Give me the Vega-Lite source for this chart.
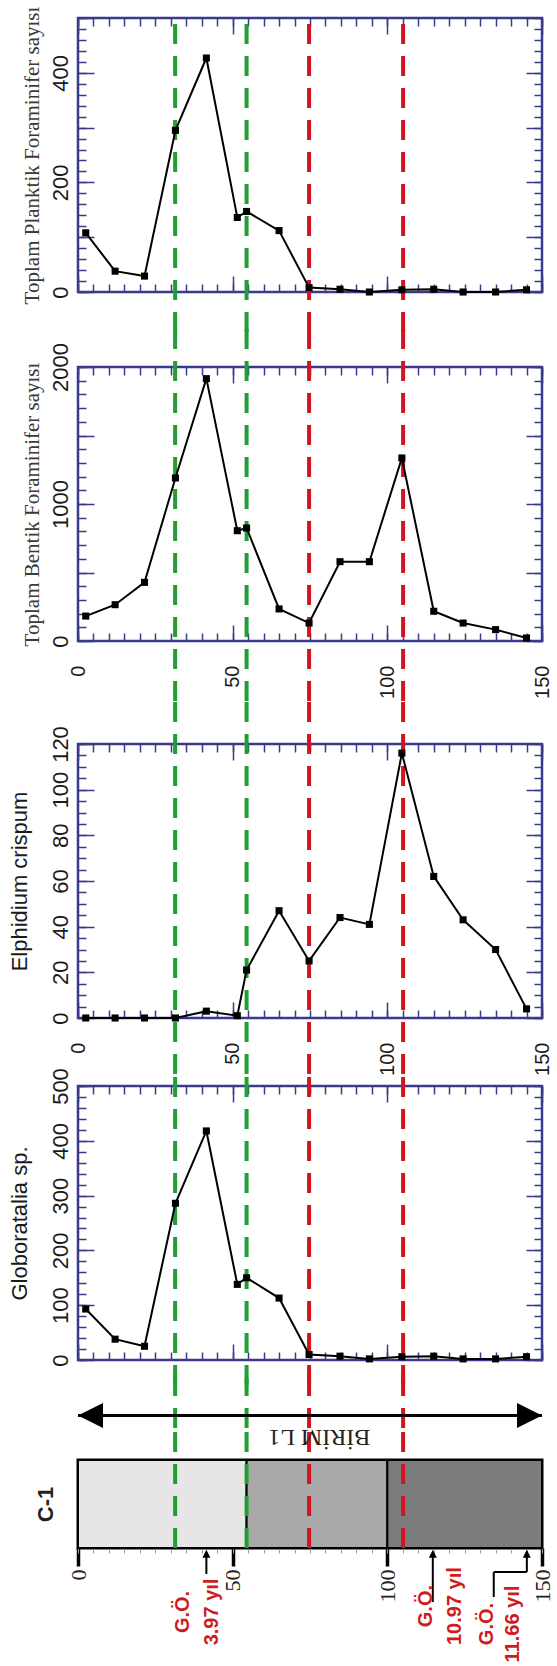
{
  "$schema": "https://vega.github.io/schema/vega-lite/v6.json",
  "background": "white",
  "padding": {"left": 6, "top": 4, "right": 4, "bottom": 4},
  "spacing": -14,
  "datasets": {
    "core": [
      {"depth": 2.5, "planktik": 108, "bentik": 182, "elphidium": 0, "globorotalia": 93},
      {"depth": 12, "planktik": 38, "bentik": 265, "elphidium": 0, "globorotalia": 38},
      {"depth": 21.5, "planktik": 29, "bentik": 428, "elphidium": 0, "globorotalia": 25},
      {"depth": 31.5, "planktik": 295, "bentik": 1190, "elphidium": 0, "globorotalia": 286},
      {"depth": 41.5, "planktik": 427, "bentik": 1915, "elphidium": 3, "globorotalia": 418},
      {"depth": 51.5, "planktik": 136, "bentik": 805, "elphidium": 1, "globorotalia": 138},
      {"depth": 54.5, "planktik": 147, "bentik": 825, "elphidium": 21, "globorotalia": 150},
      {"depth": 65, "planktik": 112, "bentik": 234, "elphidium": 47, "globorotalia": 113},
      {"depth": 74.7, "planktik": 8, "bentik": 131, "elphidium": 25, "globorotalia": 10},
      {"depth": 84.7, "planktik": 5, "bentik": 579, "elphidium": 44, "globorotalia": 7},
      {"depth": 94.2, "planktik": 0, "bentik": 579, "elphidium": 41, "globorotalia": 2},
      {"depth": 104.7, "planktik": 4, "bentik": 1336, "elphidium": 116, "globorotalia": 6},
      {"depth": 115, "planktik": 5, "bentik": 217, "elphidium": 62, "globorotalia": 7},
      {"depth": 124.5, "planktik": 0, "bentik": 131, "elphidium": 43, "globorotalia": 2},
      {"depth": 135, "planktik": 0, "bentik": 83, "elphidium": 30, "globorotalia": 2},
      {"depth": 145, "planktik": 4, "bentik": 22, "elphidium": 4, "globorotalia": 6}
    ],
    "boundaries": [
      {"depth": 31.4, "kind": "green"},
      {"depth": 54.5, "kind": "green"},
      {"depth": 74.7, "kind": "red"},
      {"depth": 105.1, "kind": "red"}
    ],
    "units": [
      {"from": 0, "to": 54.5, "unit": "a"},
      {"from": 54.5, "to": 100, "unit": "b"},
      {"from": 100, "to": 150, "unit": "c"}
    ],
    "events": [
      {"depth": 41.5, "label": "G.Ö. 3.97 yıl"},
      {"depth": 114.7, "label": "G.Ö. 10.97 yıl"},
      {"depth": 145.1, "label": "G.Ö. 11.66 yıl"}
    ]
  },
  "vconcat": [
    {
      "width": 464, "height": 274,
      "data": {"name": "core"},
      "view": {"stroke": "#3a3a8c", "strokeWidth": 2.5},
      "resolve": {"axis": {"x": "independent", "y": "independent"}},
      "layer": [
        {
          "data": {"name": "boundaries"},
          "mark": {"type": "rule", "strokeDash": [20, 12], "strokeWidth": 4},
          "encoding": {
            "x": {"field": "depth", "type": "quantitative", "scale": {"domain": [0, 150], "nice": false, "zero": false}, "axis": {"orient": "top", "values": [0, 50, 100, 150], "tickSize": -16, "labels": false, "title": null}},
            "y": {"datum": -73, "type": "quantitative", "scale": {"domain": [0, 500], "nice": false, "zero": false}, "axis": {"orient": "right", "values": [0, 100, 200, 300, 400, 500], "tickSize": -16, "labels": false, "title": null}},
            "y2": {"datum": 500},
            "color": {"field": "kind", "type": "nominal", "scale": {"domain": ["green", "red"], "range": ["#1f9e34", "#d2141e"]}, "legend": null}
          }
        },
        {
          "mark": {"type": "point", "opacity": 0},
          "encoding": {
            "x": {"field": "depth", "type": "quantitative", "scale": {"domain": [0, 150], "nice": false, "zero": false}, "axis": {"orient": "top", "values": [0,5,10,15,20,25,30,35,40,45,50,55,60,65,70,75,80,85,90,95,100,105,110,115,120,125,130,135,140,145,150], "tickSize": -8, "labels": false, "title": null}},
            "y": {"field": "planktik", "type": "quantitative", "scale": {"domain": [0, 500], "nice": false, "zero": false}, "axis": {"orient": "right", "values": [0,20,40,60,80,100,120,140,160,180,200,220,240,260,280,300,320,340,360,380,400,420,440,460,480,500], "tickSize": -8, "labels": false, "title": null}}
          }
        },
        {
          "mark": {"type": "line", "color": "black", "strokeWidth": 2},
          "encoding": {
            "x": {"field": "depth", "type": "quantitative", "scale": {"domain": [0, 150], "nice": false, "zero": false}, "axis": {"orient": "bottom", "values": [0, 50, 100, 150], "tickSize": -16, "labels": false, "title": null}},
            "y": {"field": "planktik", "type": "quantitative", "scale": {"domain": [0, 500], "nice": false, "zero": false}, "axis": {"orient": "left", "values": [0, 100, 200, 300, 400, 500], "tickSize": -16, "labelExpr": "datum.value % 200 == 0 ? datum.label : ''", "labelAngle": -90, "labelAlign": "center", "labelBaseline": "bottom", "labelPadding": 22, "minExtent": 28, "maxExtent": 28, "title": "Toplam Planktik Foraminifer sayısı", "titleFont": "Liberation Serif", "titleFontSize": 21, "titlePadding": 8, "titleColor": "#3a3a3a"}}
          }
        },
        {
          "mark": {"type": "point", "shape": "square", "filled": true, "color": "black", "size": 50, "opacity": 1},
          "encoding": {
            "x": {"field": "depth", "type": "quantitative", "scale": {"domain": [0, 150], "nice": false, "zero": false}, "axis": {"orient": "bottom", "values": [0,5,10,15,20,25,30,35,40,45,50,55,60,65,70,75,80,85,90,95,100,105,110,115,120,125,130,135,140,145,150], "tickSize": -8, "labels": false, "title": null}},
            "y": {"field": "planktik", "type": "quantitative", "scale": {"domain": [0, 500], "nice": false, "zero": false}, "axis": {"orient": "left", "values": [0,20,40,60,80,100,120,140,160,180,200,220,240,260,280,300,320,340,360,380,400,420,440,460,480,500], "tickSize": -8, "labels": false, "title": null}}
          }
        }
      ]
    },
    {
      "width": 464, "height": 274,
      "data": {"name": "core"},
      "view": {"stroke": "#3a3a8c", "strokeWidth": 2.5},
      "resolve": {"axis": {"x": "independent", "y": "independent"}},
      "layer": [
        {
          "data": {"name": "boundaries"},
          "mark": {"type": "rule", "strokeDash": [20, 12], "strokeWidth": 4},
          "encoding": {
            "x": {"field": "depth", "type": "quantitative", "scale": {"domain": [0, 150], "nice": false, "zero": false}, "axis": {"orient": "top", "values": [0, 50, 100, 150], "tickSize": -16, "labels": false, "title": null}},
            "y": {"datum": -438, "type": "quantitative", "scale": {"domain": [0, 2000], "nice": false, "zero": false}, "axis": {"orient": "right", "values": [0, 500, 1000, 1500, 2000], "tickSize": -16, "labels": false, "title": null}},
            "y2": {"datum": 2299},
            "color": {"field": "kind", "type": "nominal", "scale": {"domain": ["green", "red"], "range": ["#1f9e34", "#d2141e"]}, "legend": null}
          }
        },
        {
          "mark": {"type": "point", "opacity": 0},
          "encoding": {
            "x": {"field": "depth", "type": "quantitative", "scale": {"domain": [0, 150], "nice": false, "zero": false}, "axis": {"orient": "top", "values": [0,5,10,15,20,25,30,35,40,45,50,55,60,65,70,75,80,85,90,95,100,105,110,115,120,125,130,135,140,145,150], "tickSize": -8, "labels": false, "title": null}},
            "y": {"field": "bentik", "type": "quantitative", "scale": {"domain": [0, 2000], "nice": false, "zero": false}, "axis": {"orient": "right", "values": [0,100,200,300,400,500,600,700,800,900,1000,1100,1200,1300,1400,1500,1600,1700,1800,1900,2000], "tickSize": -8, "labels": false, "title": null}}
          }
        },
        {
          "mark": {"type": "line", "color": "black", "strokeWidth": 2},
          "encoding": {
            "x": {"field": "depth", "type": "quantitative", "scale": {"domain": [0, 150], "nice": false, "zero": false}, "axis": {"orient": "bottom", "values": [0, 50, 100, 150], "tickSize": -16, "labelAngle": -90, "labelAlign": "right", "labelBaseline": "middle", "labelPadding": 40, "labelFontSize": 20, "title": null}},
            "y": {"field": "bentik", "type": "quantitative", "scale": {"domain": [0, 2000], "nice": false, "zero": false}, "axis": {"orient": "left", "values": [0, 500, 1000, 1500, 2000], "tickSize": -16, "labelExpr": "datum.value % 1000 == 0 ? format(datum.value, 'd') : ''", "labelAngle": -90, "labelAlign": "center", "labelBaseline": "bottom", "labelPadding": 22, "minExtent": 28, "maxExtent": 28, "title": "Toplam Bentik Foraminifer sayısı", "titleFont": "Liberation Serif", "titleFontSize": 21, "titlePadding": 8, "titleColor": "#3a3a3a"}}
          }
        },
        {
          "mark": {"type": "point", "shape": "square", "filled": true, "color": "black", "size": 50, "opacity": 1},
          "encoding": {
            "x": {"field": "depth", "type": "quantitative", "scale": {"domain": [0, 150], "nice": false, "zero": false}, "axis": {"orient": "bottom", "values": [0,5,10,15,20,25,30,35,40,45,50,55,60,65,70,75,80,85,90,95,100,105,110,115,120,125,130,135,140,145,150], "tickSize": -8, "labels": false, "title": null}},
            "y": {"field": "bentik", "type": "quantitative", "scale": {"domain": [0, 2000], "nice": false, "zero": false}, "axis": {"orient": "left", "values": [0,100,200,300,400,500,600,700,800,900,1000,1100,1200,1300,1400,1500,1600,1700,1800,1900,2000], "tickSize": -8, "labels": false, "title": null}}
          }
        }
      ]
    },
    {
      "width": 464, "height": 274,
      "data": {"name": "core"},
      "view": {"stroke": "#3a3a8c", "strokeWidth": 2.5},
      "resolve": {"axis": {"x": "independent", "y": "independent"}},
      "layer": [
        {
          "data": {"name": "boundaries"},
          "mark": {"type": "rule", "strokeDash": [20, 12], "strokeWidth": 4},
          "encoding": {
            "x": {"field": "depth", "type": "quantitative", "scale": {"domain": [0, 150], "nice": false, "zero": false}, "axis": {"orient": "top", "values": [0, 50, 100, 150], "tickSize": -16, "labels": false, "title": null}},
            "y": {"datum": -24.5, "type": "quantitative", "scale": {"domain": [0, 120], "nice": false, "zero": false}, "axis": {"orient": "right", "values": [0, 20, 40, 60, 80, 100, 120], "tickSize": -16, "labels": false, "title": null}},
            "y2": {"datum": 141.5},
            "color": {"field": "kind", "type": "nominal", "scale": {"domain": ["green", "red"], "range": ["#1f9e34", "#d2141e"]}, "legend": null}
          }
        },
        {
          "mark": {"type": "point", "opacity": 0},
          "encoding": {
            "x": {"field": "depth", "type": "quantitative", "scale": {"domain": [0, 150], "nice": false, "zero": false}, "axis": {"orient": "top", "values": [0,5,10,15,20,25,30,35,40,45,50,55,60,65,70,75,80,85,90,95,100,105,110,115,120,125,130,135,140,145,150], "tickSize": -8, "labels": false, "title": null}},
            "y": {"field": "elphidium", "type": "quantitative", "scale": {"domain": [0, 120], "nice": false, "zero": false}, "axis": {"orient": "right", "values": [0,5,10,15,20,25,30,35,40,45,50,55,60,65,70,75,80,85,90,95,100,105,110,115,120], "tickSize": -8, "labels": false, "title": null}}
          }
        },
        {
          "mark": {"type": "line", "color": "black", "strokeWidth": 2},
          "encoding": {
            "x": {"field": "depth", "type": "quantitative", "scale": {"domain": [0, 150], "nice": false, "zero": false}, "axis": {"orient": "bottom", "values": [0, 50, 100, 150], "tickSize": -16, "labelAngle": -90, "labelAlign": "right", "labelBaseline": "middle", "labelPadding": 40, "labelFontSize": 20, "title": null}},
            "y": {"field": "elphidium", "type": "quantitative", "scale": {"domain": [0, 120], "nice": false, "zero": false}, "axis": {"orient": "left", "values": [0, 20, 40, 60, 80, 100, 120], "tickSize": -16, "labelAngle": -90, "labelAlign": "center", "labelBaseline": "bottom", "labelPadding": 22, "minExtent": 28, "maxExtent": 28, "title": "Elphidium crispum", "titleFont": "Liberation Sans", "titleFontSize": 22, "titlePadding": 19}}
          }
        },
        {
          "mark": {"type": "point", "shape": "square", "filled": true, "color": "black", "size": 50, "opacity": 1},
          "encoding": {
            "x": {"field": "depth", "type": "quantitative", "scale": {"domain": [0, 150], "nice": false, "zero": false}, "axis": {"orient": "bottom", "values": [0,5,10,15,20,25,30,35,40,45,50,55,60,65,70,75,80,85,90,95,100,105,110,115,120,125,130,135,140,145,150], "tickSize": -8, "labels": false, "title": null}},
            "y": {"field": "elphidium", "type": "quantitative", "scale": {"domain": [0, 120], "nice": false, "zero": false}, "axis": {"orient": "left", "values": [0,5,10,15,20,25,30,35,40,45,50,55,60,65,70,75,80,85,90,95,100,105,110,115,120], "tickSize": -8, "labels": false, "title": null}}
          }
        }
      ]
    },
    {
      "width": 464, "height": 274,
      "data": {"name": "core"},
      "view": {"stroke": "#3a3a8c", "strokeWidth": 2.5},
      "resolve": {"axis": {"x": "independent", "y": "independent"}},
      "layer": [
        {
          "data": {"name": "boundaries"},
          "mark": {"type": "rule", "strokeDash": [20, 12], "strokeWidth": 4},
          "encoding": {
            "x": {"field": "depth", "type": "quantitative", "scale": {"domain": [0, 150], "nice": false, "zero": false}, "axis": {"orient": "top", "values": [0, 50, 100, 150], "tickSize": -16, "labels": false, "title": null}},
            "y": {"datum": -45.6, "type": "quantitative", "scale": {"domain": [0, 500], "nice": false, "zero": false}, "axis": {"orient": "right", "values": [0, 100, 200, 300, 400, 500], "tickSize": -16, "labels": false, "title": null}},
            "y2": {"datum": 532.8},
            "color": {"field": "kind", "type": "nominal", "scale": {"domain": ["green", "red"], "range": ["#1f9e34", "#d2141e"]}, "legend": null}
          }
        },
        {
          "mark": {"type": "point", "opacity": 0},
          "encoding": {
            "x": {"field": "depth", "type": "quantitative", "scale": {"domain": [0, 150], "nice": false, "zero": false}, "axis": {"orient": "top", "values": [0,5,10,15,20,25,30,35,40,45,50,55,60,65,70,75,80,85,90,95,100,105,110,115,120,125,130,135,140,145,150], "tickSize": -8, "labels": false, "title": null}},
            "y": {"field": "globorotalia", "type": "quantitative", "scale": {"domain": [0, 500], "nice": false, "zero": false}, "axis": {"orient": "right", "values": [0,20,40,60,80,100,120,140,160,180,200,220,240,260,280,300,320,340,360,380,400,420,440,460,480,500], "tickSize": -8, "labels": false, "title": null}}
          }
        },
        {
          "mark": {"type": "line", "color": "black", "strokeWidth": 2},
          "encoding": {
            "x": {"field": "depth", "type": "quantitative", "scale": {"domain": [0, 150], "nice": false, "zero": false}, "axis": {"orient": "bottom", "values": [0, 50, 100, 150], "tickSize": -16, "labels": false, "title": null}},
            "y": {"field": "globorotalia", "type": "quantitative", "scale": {"domain": [0, 500], "nice": false, "zero": false}, "axis": {"orient": "left", "values": [0, 100, 200, 300, 400, 500], "tickSize": -16, "labelAngle": -90, "labelAlign": "center", "labelBaseline": "bottom", "labelPadding": 22, "minExtent": 28, "maxExtent": 28, "title": "Globoratalia sp.", "titleFont": "Liberation Sans", "titleFontSize": 22, "titlePadding": 19}}
          }
        },
        {
          "mark": {"type": "point", "shape": "square", "filled": true, "color": "black", "size": 50, "opacity": 1},
          "encoding": {
            "x": {"field": "depth", "type": "quantitative", "scale": {"domain": [0, 150], "nice": false, "zero": false}, "axis": {"orient": "bottom", "values": [0,5,10,15,20,25,30,35,40,45,50,55,60,65,70,75,80,85,90,95,100,105,110,115,120,125,130,135,140,145,150], "tickSize": -8, "labels": false, "title": null}},
            "y": {"field": "globorotalia", "type": "quantitative", "scale": {"domain": [0, 500], "nice": false, "zero": false}, "axis": {"orient": "left", "values": [0,20,40,60,80,100,120,140,160,180,200,220,240,260,280,300,320,340,360,380,400,420,440,460,480,500], "tickSize": -8, "labels": false, "title": null}}
          }
        }
      ]
    },
    {
      "width": 464, "height": 25,
      "view": {"stroke": null},
      "layer": [
        {
          "data": {"name": "boundaries"},
          "mark": {"type": "rule", "strokeDash": [20, 12], "strokeWidth": 4},
          "encoding": {
            "x": {"field": "depth", "type": "quantitative", "scale": {"domain": [0, 150], "nice": false, "zero": false}, "axis": null},
            "y": {"datum": 0, "type": "quantitative", "scale": {"domain": [0, 1], "nice": false, "zero": false}, "axis": null},
            "y2": {"datum": 2.02},
            "color": {"field": "kind", "type": "nominal", "scale": {"domain": ["green", "red"], "range": ["#1f9e34", "#d2141e"]}, "legend": null}
          }
        },
        {
          "data": {"values": [{}]},
          "mark": {"type": "rule", "color": "black", "strokeWidth": 3},
          "encoding": {
            "x": {"datum": 0, "type": "quantitative", "scale": {"domain": [0, 150], "nice": false, "zero": false}, "axis": null},
            "x2": {"datum": 150}
          }
        },
        {
          "data": {"values": [{}]},
          "mark": {"type": "point", "shape": "M0,0L2,-1L2,1Z", "size": 625, "filled": true, "color": "black", "opacity": 1},
          "encoding": {
            "x": {"datum": 0, "type": "quantitative", "scale": {"domain": [0, 150], "nice": false, "zero": false}, "axis": null}
          }
        },
        {
          "data": {"values": [{}]},
          "mark": {"type": "point", "shape": "M0,0L-2,-1L-2,1Z", "size": 625, "filled": true, "color": "black", "opacity": 1},
          "encoding": {
            "x": {"datum": 150, "type": "quantitative", "scale": {"domain": [0, 150], "nice": false, "zero": false}, "axis": null}
          }
        }
      ]
    },
    {
      "width": 464, "height": 88,
      "view": {"stroke": "black", "strokeWidth": 3},
      "resolve": {"axis": {"x": "independent", "y": "independent"}},
      "layer": [
        {
          "data": {"name": "units"},
          "mark": {"type": "rect", "stroke": "black", "strokeWidth": 2},
          "encoding": {
            "x": {"field": "from", "type": "quantitative", "scale": {"domain": [0, 150], "nice": false, "zero": false}, "axis": {"orient": "bottom", "values": [0, 50, 100, 150], "tickSize": 18, "tickWidth": 3.5, "tickColor": "black", "labelFont": "Liberation Serif", "labelFontSize": 22, "labelAngle": -90, "labelAlign": "right", "labelBaseline": "middle", "labelPadding": 3, "labelColor": "#222222", "title": null}},
            "x2": {"field": "to"},
            "fill": {"field": "unit", "type": "nominal", "scale": {"domain": ["a", "b", "c"], "range": ["#e6e6e6", "#a8a8a8", "#7c7c7c"]}, "legend": null}
          }
        },
        {
          "data": {"name": "boundaries"},
          "mark": {"type": "rule", "strokeDash": [20, 12], "strokeWidth": 4},
          "encoding": {
            "x": {"field": "depth", "type": "quantitative", "scale": {"domain": [0, 150], "nice": false, "zero": false}, "axis": {"orient": "bottom", "values": [0,5,10,15,20,25,30,35,40,45,50,55,60,65,70,75,80,85,90,95,100,105,110,115,120,125,130,135,140,145,150], "tickSize": 5, "tickColor": "#9a9a9a", "tickWidth": 1, "labels": false, "title": null}},
            "y": {"datum": 0, "type": "quantitative", "scale": {"domain": [0, 1], "nice": false, "zero": false}, "axis": {"orient": "left", "title": "C-1", "labels": false, "ticks": false, "titleFontWeight": "bold", "titleFontSize": 22, "titlePadding": 21, "minExtent": 0, "maxExtent": 0, "titleColor": "#222222"}},
            "y2": {"datum": 1.449},
            "color": {"field": "kind", "type": "nominal", "scale": {"domain": ["green", "red"], "range": ["#1f9e34", "#d2141e"]}, "legend": null}
          }
        },
        {
          "data": {"values": [{}]},
          "mark": {"type": "text", "text": "BİRİM L1", "angle": 180, "align": "center", "baseline": "middle", "font": "Liberation Serif", "fontSize": 24, "color": "#222222"},
          "encoding": {
            "x": {"datum": 78, "type": "quantitative", "scale": {"domain": [0, 150], "nice": false, "zero": false}, "axis": null},
            "y": {"datum": 1.261, "type": "quantitative", "scale": {"domain": [0, 1], "nice": false, "zero": false}, "axis": null}
          }
        },
        {
          "data": {"name": "events"},
          "mark": {"type": "point", "shape": "M0,0L1,2L-1,2Z", "size": 64, "filled": true, "color": "black", "opacity": 1},
          "encoding": {
            "x": {"field": "depth", "type": "quantitative", "scale": {"domain": [0, 150], "nice": false, "zero": false}, "axis": null},
            "y": {"datum": -0.02, "type": "quantitative", "scale": {"domain": [0, 1], "nice": false, "zero": false}, "axis": null}
          }
        },
        {
          "data": {"values": [{}]},
          "mark": {"type": "rule", "color": "black", "strokeWidth": 2},
          "encoding": {
            "x": {"datum": 41.5, "type": "quantitative", "scale": {"domain": [0, 150], "nice": false, "zero": false}, "axis": null},
            "y": {"datum": -0.05, "type": "quantitative", "scale": {"domain": [0, 1], "nice": false, "zero": false}, "axis": null},
            "y2": {"datum": -0.295}
          }
        },
        {
          "data": {"values": [{}]},
          "mark": {"type": "rule", "color": "black", "strokeWidth": 2},
          "encoding": {
            "x": {"datum": 114.7, "type": "quantitative", "scale": {"domain": [0, 150], "nice": false, "zero": false}, "axis": null},
            "y": {"datum": -0.05, "type": "quantitative", "scale": {"domain": [0, 1], "nice": false, "zero": false}, "axis": null},
            "y2": {"datum": -0.614}
          }
        },
        {
          "data": {"values": [{}]},
          "mark": {"type": "rule", "color": "black", "strokeWidth": 2},
          "encoding": {
            "x": {"datum": 145.1, "type": "quantitative", "scale": {"domain": [0, 150], "nice": false, "zero": false}, "axis": null},
            "y": {"datum": -0.05, "type": "quantitative", "scale": {"domain": [0, 1], "nice": false, "zero": false}, "axis": null},
            "y2": {"datum": -0.273}
          }
        },
        {
          "data": {"values": [{}]},
          "mark": {"type": "rule", "color": "black", "strokeWidth": 2},
          "encoding": {
            "x": {"datum": 134.4, "type": "quantitative", "scale": {"domain": [0, 150], "nice": false, "zero": false}, "axis": null},
            "x2": {"datum": 145.1},
            "y": {"datum": -0.273, "type": "quantitative", "scale": {"domain": [0, 1], "nice": false, "zero": false}, "axis": null}
          }
        },
        {
          "data": {"values": [{}]},
          "mark": {"type": "rule", "color": "black", "strokeWidth": 2},
          "encoding": {
            "x": {"datum": 134.4, "type": "quantitative", "scale": {"domain": [0, 150], "nice": false, "zero": false}, "axis": null},
            "y": {"datum": -0.273, "type": "quantitative", "scale": {"domain": [0, 1], "nice": false, "zero": false}, "axis": null},
            "y2": {"datum": -0.557}
          }
        },
        {
          "data": {"values": [{}]},
          "mark": {"type": "text", "text": "G.Ö.|3.97 yıl", "lineBreak": "|", "angle": 270, "align": "center", "baseline": "middle", "font": "Liberation Sans", "fontWeight": "bold", "fontSize": 20, "lineHeight": 29, "color": "#d01c1c"},
          "encoding": {
            "x": {"datum": 33.9, "type": "quantitative", "scale": {"domain": [0, 150], "nice": false, "zero": false}, "axis": null},
            "y": {"datum": -0.727, "type": "quantitative", "scale": {"domain": [0, 1], "nice": false, "zero": false}, "axis": null}
          }
        },
        {
          "data": {"values": [{}]},
          "mark": {"type": "text", "text": "G.Ö.|10.97 yıl", "lineBreak": "|", "angle": 270, "align": "center", "baseline": "middle", "font": "Liberation Sans", "fontWeight": "bold", "fontSize": 20, "lineHeight": 29, "color": "#d01c1c"},
          "encoding": {
            "x": {"datum": 112.5, "type": "quantitative", "scale": {"domain": [0, 150], "nice": false, "zero": false}, "axis": null},
            "y": {"datum": -0.66, "type": "quantitative", "scale": {"domain": [0, 1], "nice": false, "zero": false}, "axis": null}
          }
        },
        {
          "data": {"values": [{}]},
          "mark": {"type": "text", "text": "G.Ö.|11.66 yıl", "lineBreak": "|", "angle": 270, "align": "center", "baseline": "middle", "font": "Liberation Sans", "fontWeight": "bold", "fontSize": 20, "lineHeight": 26, "color": "#d01c1c"},
          "encoding": {
            "x": {"datum": 132.2, "type": "quantitative", "scale": {"domain": [0, 150], "nice": false, "zero": false}, "axis": null},
            "y": {"datum": -0.864, "type": "quantitative", "scale": {"domain": [0, 1], "nice": false, "zero": false}, "axis": null}
          }
        }
      ]
    }
  ],
  "config": {
    "view": {"stroke": null},
    "axis": {"grid": false, "domain": false, "tickColor": "#3a3a8c", "tickWidth": 1.5, "labelFont": "Liberation Sans", "labelFontSize": 22, "labelColor": "#1a1a1a", "titleFont": "Liberation Sans", "titleFontWeight": "normal", "titleColor": "#1a1a1a", "labelOverlap": false, "labelFlush": false}
  }
}
